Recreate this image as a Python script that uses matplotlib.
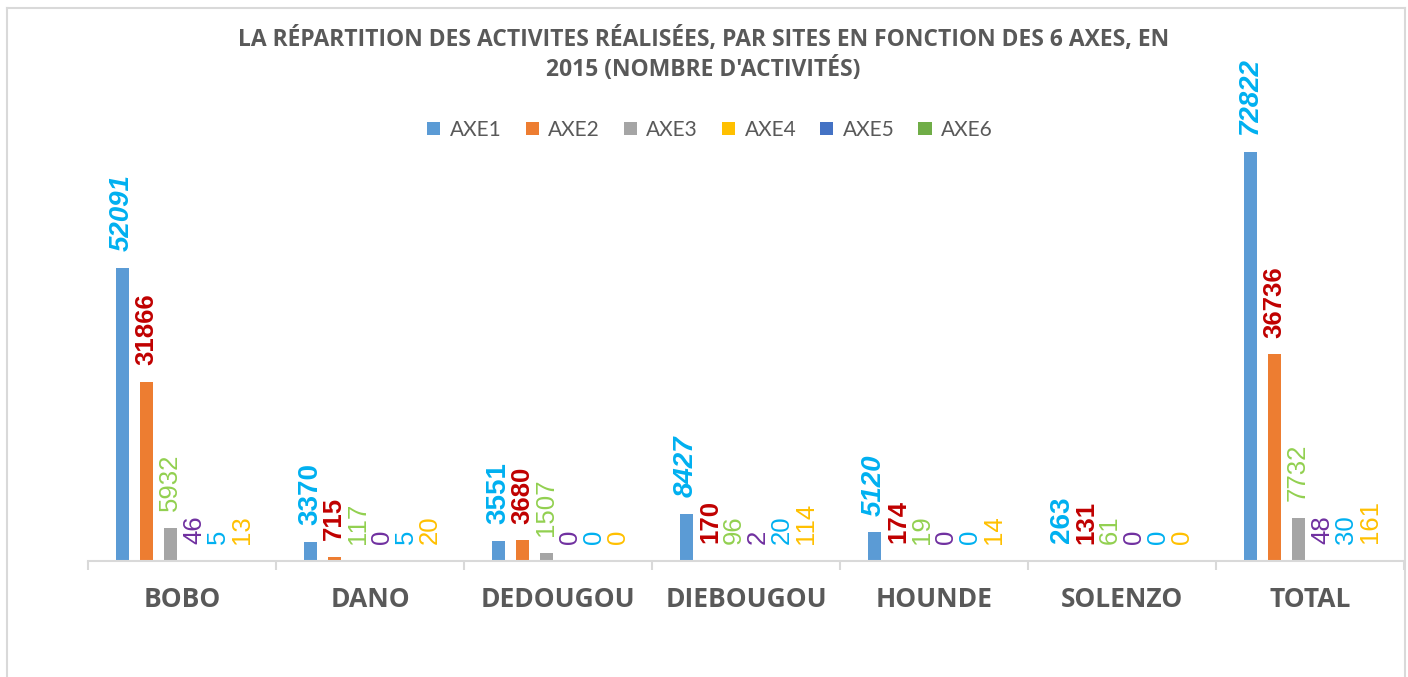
import numpy as np
import matplotlib
matplotlib.use("Agg")
import matplotlib.pyplot as plt
from matplotlib.lines import Line2D

# données (nombre d'activités, 2015)
sites = ["BOBO", "DANO", "DEDOUGOU", "DIEBOUGOU", "HOUNDE", "SOLENZO", "TOTAL"]
axes_noms = ["AXE1", "AXE2", "AXE3", "AXE4", "AXE5", "AXE6"]

axe1 = [52091, 3370, 3551, 8427, 5120, 263, 72822]
axe2 = [31866, 715, 3680, 170, 174, 131, 36736]
axe3 = [5932, 117, 1507, 96, 19, 61, 7732]
axe4 = [46, 0, 0, 2, 0, 0, 48]
axe5 = [5, 5, 0, 20, 0, 0, 30]
axe6 = [13, 20, 0, 114, 14, 0, 161]
series = [axe1, axe2, axe3, axe4, axe5, axe6]

bar_colors = ["#5B9BD5", "#ED7D31", "#A5A5A5", "#FFC000", "#4472C4", "#70AD47"]
label_colors = ["#00B0F0", "#C00000", "#92D050", "#7030A0", "#00B0F0", "#FFC000"]
italic_sites = ["BOBO", "DIEBOUGOU", "HOUNDE", "TOTAL"]

gris = "#595959"
trait = "#D9D9D9"

W, H = 1408, 677
fig = plt.figure(figsize=(W / 100, H / 100), dpi=100)
fig.patch.set_facecolor("white")

# zone de traçage
ax = fig.add_axes([88 / W, 1 - 561 / H, (1404 - 88) / W, 461 / H])
ax.set_facecolor("none")

x = np.arange(len(sites))
step = 24 / 188
width = 13 / 188

for i, (vals, nom) in enumerate(zip(series, axes_noms)):
    pos = x + (i - 2.5) * step
    ax.bar(pos, vals, width, color=bar_colors[i], label=nom)
    for j, (px, v) in enumerate(zip(pos, vals)):
        style = "normal"
        if i == 0 and sites[j] in italic_sites:
            style = "italic"
        ax.annotate(str(v), (px, v), xytext=(0, 12), textcoords="offset points",
                    rotation=90, ha="center", va="bottom",
                    color=label_colors[i], family="Liberation Sans",
                    fontsize=20 if i == 0 else 18.5,
                    fontweight="bold" if i < 2 else "normal",
                    fontstyle=style)

ax.set_xlim(-0.5, len(sites) - 0.5)
ax.set_ylim(0, 82000)
ax.set_yticks([])
for s in ["left", "right", "top"]:
    ax.spines[s].set_visible(False)
ax.spines["bottom"].set_color(trait)
ax.spines["bottom"].set_linewidth(1.5)

ax.set_xticks(x)
ax.set_xticklabels(sites, family="Open Sans", fontweight="bold",
                   fontsize=19, color=gris)
ax.tick_params(axis="x", which="major", length=0, pad=18)
ax.set_xticks(np.arange(-0.5, len(sites)), minor=True)
ax.tick_params(axis="x", which="minor", length=6.5, width=1.5, color=trait)

# titre
fig.text(0.4995, 1 - 27 / H,
         "LA RÉPARTITION DES ACTIVITES RÉALISÉES, PAR SITES EN FONCTION DES 6 AXES, EN\n"
         "2015 (NOMBRE D'ACTIVITÉS)",
         ha="center", va="top", family="Open Sans", fontweight="bold",
         fontsize=16.5, color=gris, linespacing=1.25)

# légende
fig.legend(loc="center", bbox_to_anchor=(710 / W, 1 - 130 / H), ncol=6,
           frameon=False, prop={"family": "Lato", "size": 15},
           labelcolor=gris, handlelength=0.63, handleheight=0.63,
           handletextpad=0.45, columnspacing=1.15)

# cadre du graphique
for xs, ys in [([7.5, 7.5], [-5, H - 8]), ([7.5, 1404.5], [H - 8, H - 8]),
               ([1404.5, 1404.5], [-5, H - 8])]:
    fig.add_artist(Line2D([v / W for v in xs], [v / H for v in ys],
                          color=trait, linewidth=1.5))

fig.savefig("out.png", dpi=100)
